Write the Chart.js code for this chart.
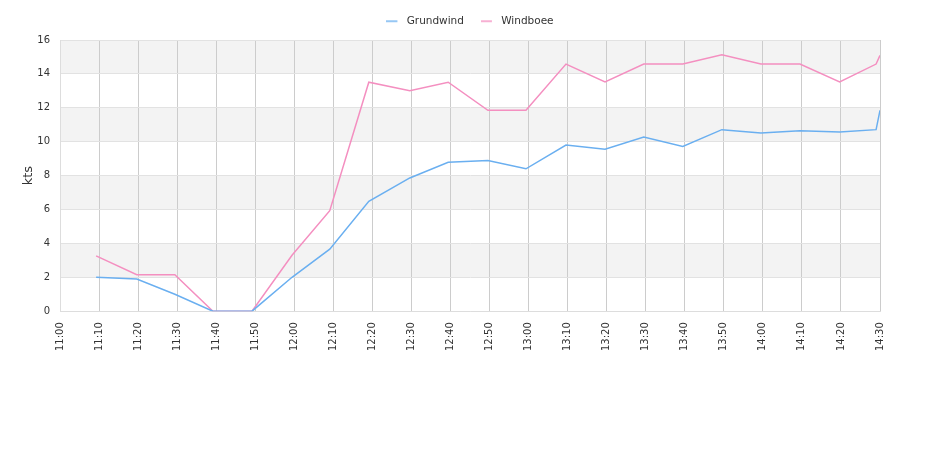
<!DOCTYPE html>
<html>
<head>
<meta charset="utf-8">
<script src="https://cdn.jsdelivr.net/npm/chart.js@4/dist/chart.umd.min.js"></script>
<style>
html,body{margin:0;padding:0;background:#fff;}
#wrap{width:940px;height:450px;}
</style>
</head>
<body>
<div id="wrap"><canvas id="c" width="940" height="450"></canvas></div>
<script>
// Sample times (HH:MM:SS)
const times = ["11:09:15","11:19:40","11:29:25","11:39:10","11:49:10","11:59:25","12:09:05","12:19:05","12:29:35","12:39:25","12:49:35","12:59:20","13:09:35","13:19:35","13:29:30","13:39:30","13:49:30","13:59:30","14:09:30","14:19:40","14:29:00","14:30:00"];
const grundwind = [2.0,1.9,1.0,0,0,2.0,3.66,6.48,7.86,8.79,8.89,8.40,9.80,9.56,10.27,9.72,10.71,10.51,10.65,10.57,10.71,11.85];
const windboee = [3.26,2.15,2.15,0,0,3.3,5.93,13.51,13.0,13.51,11.85,11.85,14.58,13.53,14.58,14.58,15.13,14.58,14.58,13.53,14.58,15.09];
const seriesNames = ["Grundwind","Windboee"];
const axisStart = "11:00";
const axisEnd = "14:30";
const yTitle = "kts";

function toMin(t){const p=t.split(":").map(Number);return (p[0]-11)*60+p[1]+(p[2]||0)/60;}
function fmt(m){const h=11+Math.floor(m/60);const mm=Math.round(m%60);return h+":"+(mm<10?"0":"")+mm;}

function legendLine(color){
  const c=document.createElement('canvas');
  c.width=15;c.height=4;
  const g=c.getContext('2d');
  g.strokeStyle=color;g.globalAlpha=0.7;g.lineWidth=2;
  g.beginPath();g.moveTo(0,2);g.lineTo(11,2);g.stroke();
  return c;
}

const bandPlugin = {
  id:'bands',
  beforeDraw(chart){
    const {ctx, chartArea, scales:{y}} = chart;
    const ticks = y.ticks;
    ctx.save();
    ctx.fillStyle = '#f3f3f3';
    for(let i=1;i<ticks.length-1;i+=2){
      const y1 = y.getPixelForValue(ticks[i].value);
      const y2 = y.getPixelForValue(ticks[i+1].value);
      ctx.fillRect(chartArea.left, y2, chartArea.right-chartArea.left, y1-y2);
    }
    ctx.restore();
  }
};

const legendHeightPlugin = {
  id:'legendHeight',
  beforeInit(chart){
    const orig = chart.legend.fit;
    chart.legend.fit = function(){ orig.bind(chart.legend)(); this.height = 41; };
  }
};

Chart.defaults.font.family = "'DejaVu Sans', sans-serif";
Chart.defaults.font.size = 10;
Chart.defaults.color = '#333';

const blue='#6aaff0', pink='#f48fc0';

new Chart(document.getElementById('c'), {
  type:'line',
  data:{
    datasets:[
      {label:seriesNames[0], data:times.map((t,i)=>({x:toMin(t),y:grundwind[i]})), borderColor:blue, backgroundColor:blue, borderWidth:1.5, pointRadius:0, pointStyle:legendLine(blue), tension:0, fill:false},
      {label:seriesNames[1], data:times.map((t,i)=>({x:toMin(t),y:windboee[i]})), borderColor:pink, backgroundColor:pink, borderWidth:1.5, pointRadius:0, pointStyle:legendLine(pink), tension:0, fill:false}
    ]
  },
  options:{
    responsive:false,
    animation:false,
    layout:{padding:{left:0,right:0,top:-1,bottom:88}},
    plugins:{
      legend:{labels:{usePointStyle:true,pointStyleWidth:15,font:{size:10.5},color:'#333',padding:17}},
      tooltip:{enabled:false}
    },
    scales:{
      x:{type:'linear',min:toMin(axisStart),max:toMin(axisEnd),
        ticks:{stepSize:10,minRotation:90,maxRotation:90,padding:11,autoSkip:false,callback:(v)=>fmt(v),color:'#333'},
        grid:{color:'#cccccc',drawTicks:false},
        border:{color:'#dddddd'}},
      y:{min:0,max:16,
        afterFit:(s)=>{s.width=60;},
        ticks:{stepSize:2,padding:10,color:'#333'},
        grid:{color:'#e2e2e2',drawTicks:false},
        border:{color:'#dddddd'},
        title:{display:true,text:yTitle,font:{size:13},color:'#333',padding:{top:21,bottom:0}}},
      yR:{position:'right',display:true,min:0,max:16,
        afterFit:(s)=>{s.width=60;},
        ticks:{display:false},
        grid:{display:false,drawTicks:false},
        border:{display:false}}
    }
  },
  plugins:[bandPlugin,legendHeightPlugin]
});
</script>
</body>
</html>
